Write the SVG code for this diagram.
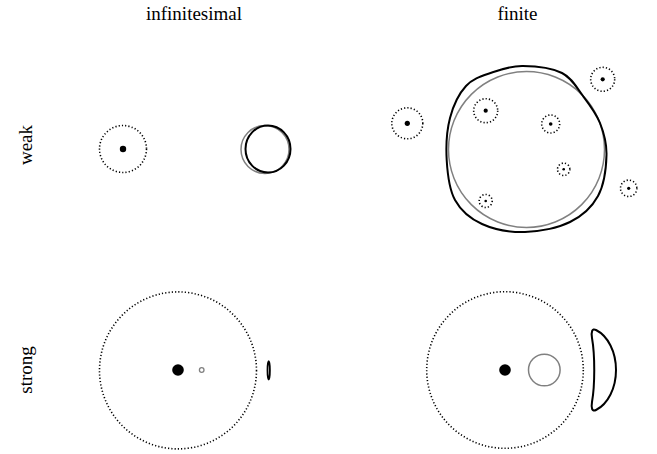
<svg xmlns="http://www.w3.org/2000/svg" width="657" height="454" viewBox="0 0 657 454">
<style>
text{font-family:"Liberation Serif","DejaVu Serif",serif;font-size:19px;fill:#000}
.dot{fill:none;stroke:#000;stroke-width:1.6;stroke-dasharray:1.2 2.1}
.blk{fill:none;stroke:#000;stroke-width:2}
.gry{fill:none;stroke:#808080;stroke-width:1.5}
</style>
<rect width="657" height="454" fill="#fff"/>
<g id="labels">
<text x="194" y="20" text-anchor="middle">infinitesimal</text>
<text x="517.5" y="20" text-anchor="middle">finite</text>
<text transform="translate(32,145) rotate(-90)" text-anchor="middle">weak</text>
<text transform="translate(32,370) rotate(-90)" text-anchor="middle">strong</text>
</g>
<g id="weak-infinitesimal">
<circle class="dot" cx="123" cy="149" r="23.5"/>
<circle cx="123" cy="149" r="3.2"/>
<circle class="gry" cx="265" cy="149.5" r="24"/>
<ellipse class="blk" cx="268" cy="149" rx="22.5" ry="23.5"/>
</g>
<g id="weak-finite">
<circle class="gry" cx="526.5" cy="149.5" r="78"/>
<path class="blk" d="M523,66 C534.7,66.1 552,68 562,73 C572,78 576.7,87.7 583,96 C589.3,104.3 596.1,113.2 600,123 C603.9,132.8 606.8,142.8 606.5,155 C606.2,167.2 604.1,184.8 598,196 C591.9,207.2 582.2,216 570,222 C557.8,228 539.7,231.7 525,232 C510.3,232.3 493.7,229.3 482,224 C470.3,218.7 460.9,210.7 455,200 C449.1,189.3 447.5,173.7 446.7,160 C445.9,146.3 446.8,130.3 450,118 C453.2,105.7 459,93.6 466,86 C473,78.2 482.5,75.8 492,72.5 C501.5,69.2 511.3,65.7 523,66 Z"/>
<circle class="dot" cx="407.3" cy="123.3" r="15.5"/>
<circle cx="407.3" cy="123.3" r="2.6"/>
<circle class="dot" cx="485.7" cy="110.7" r="12"/>
<circle cx="485.7" cy="110.7" r="2.1"/>
<circle class="dot" cx="602.7" cy="79.3" r="12"/>
<circle cx="602.7" cy="79.3" r="2.1"/>
<circle class="dot" cx="550.7" cy="124" r="9"/>
<circle cx="550.7" cy="124" r="1.8"/>
<circle class="dot" cx="563.7" cy="169.3" r="6.2"/>
<circle cx="563.7" cy="169.3" r="1.3"/>
<circle class="dot" cx="485.7" cy="201" r="6.5"/>
<circle cx="485.7" cy="201" r="1.3"/>
<circle class="dot" cx="628.7" cy="188.3" r="8.2"/>
<circle cx="628.7" cy="188.3" r="1.6"/>
</g>
<g id="strong-infinitesimal">
<circle class="dot" cx="178" cy="370.4" r="78.5"/>
<circle cx="178" cy="370" r="5.8"/>
<circle class="gry" cx="201.7" cy="370" r="2.3" style="stroke-width:1.3"/>
<ellipse class="blk" cx="268.7" cy="370.3" rx="1.2" ry="9.2" style="stroke-width:1.8"/>
</g>
<g id="strong-finite">
<circle class="dot" cx="505" cy="370" r="78.3"/>
<circle cx="505" cy="370" r="5.8"/>
<circle class="gry" cx="544.3" cy="370" r="15.8"/>
<path class="blk" d="M596,330 C608,336 616,352 616,370 C616,388 608,404 596,410 C592,412 591,408 592,402 C595,385 595,355 592,338 C591,332 592,328 596,330 Z"/>
</g>
</svg>
